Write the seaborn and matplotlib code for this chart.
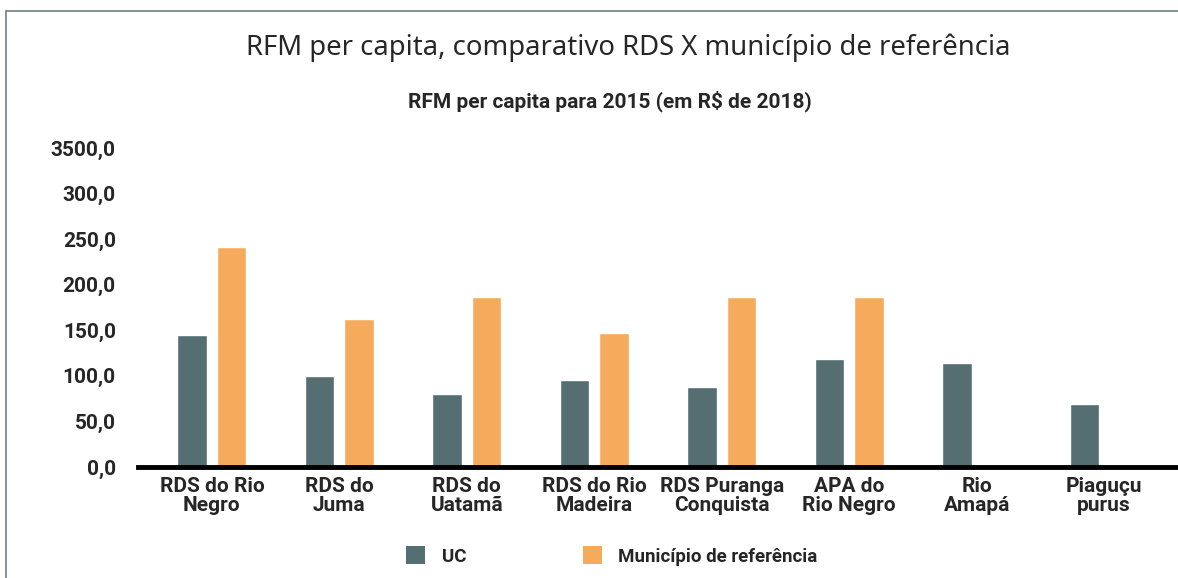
import numpy as np
import pandas as pd
import matplotlib
matplotlib.use('Agg')
import matplotlib.pyplot as plt
import seaborn as sns
from matplotlib.patches import Rectangle, Patch

# values
categories = ['RDS do Rio Negro', 'RDS do Juma', 'RDS do Uatamã', 'RDS do Rio Madeira',
              'RDS Puranga Conquista', 'APA do Rio Negro', 'Rio Amapá', 'Piaguçu purus']
tick_labels = ['RDS do Rio\nNegro', 'RDS do\nJuma', 'RDS do\nUatamã', 'RDS do Rio\nMadeira',
               'RDS Puranga\nConquista', 'APA do\nRio Negro', 'Rio\nAmapá', 'Piaguçu\npurus']
uc = [145, 100, 80, 95, 88, 118, 114, 69]
municipio = [241, 162, 186, 147, 186, 186, np.nan, np.nan]
y_ticks = [0, 50, 100, 150, 200, 250, 300, 350]
y_tick_labels = ['0,0', '50,0', '100,0', '150,0', '200,0', '250,0', '300,0', '3500,0']
series = ['UC', 'Município de referência']
colors = ['#546e71', '#f6ab5c']

df = pd.DataFrame({'categoria': categories * 2,
                   'serie': [series[0]] * len(categories) + [series[1]] * len(categories),
                   'valor': uc + municipio}).dropna()

sns.set_style('white')
plt.rcParams['font.family'] = ['Roboto', 'DejaVu Sans']

W, H = 1178, 578
fig = plt.figure(figsize=(W / 100, H / 100), dpi=100)
ax = fig.add_axes([138 / W, (H - 467) / H, (W - 138) / W, (467 - 148) / H])

sns.barplot(data=df, x='categoria', y='valor', hue='serie', order=categories,
            hue_order=series, palette=colors, width=0.62, gap=0.25,
            saturation=1, legend=False, ax=ax)

ax.set_ylim(0, 350)
ax.set_xlim(-0.58, len(categories) - 0.42)
ax.set_yticks(y_ticks)
ax.set_yticklabels(y_tick_labels, fontsize=15, fontweight='bold')
ax.set_xticks(range(len(categories)))
ax.set_xticklabels(tick_labels, fontsize=15, fontweight='bold', linespacing=1.05)
ax.tick_params(axis='y', length=0, pad=16)
ax.tick_params(axis='x', length=0, pad=7)
ax.set_xlabel('')
ax.set_ylabel('')
for s in ['left', 'right', 'top']:
    ax.spines[s].set_visible(False)
ax.spines['bottom'].set_color('black')
ax.spines['bottom'].set_linewidth(3.5)

# outer frame
fig.patches.append(Rectangle((6 / W, -0.1), 1.2, (H - 11) / H + 0.1, transform=fig.transFigure,
                             fill=False, edgecolor='#6b7f86', linewidth=1.2))

fig.text(628 / W, 1 - 48 / H, 'RFM per capita, comparativo RDS X município de referência',
         ha='center', va='center', fontsize=19.8, family=['Noto Sans', 'DejaVu Sans'])
fig.text(610 / W, 1 - 101 / H, 'RFM per capita para 2015 (em R$ de 2018)',
         ha='center', va='center', fontsize=15, fontweight='bold')

handles = [Patch(facecolor=c, edgecolor='none') for c in colors]
fig.legend(handles, series, loc='center', bbox_to_anchor=(612 / W, 1 - 556 / H), ncol=2,
           frameon=False, prop={'weight': 'bold', 'size': 13.5}, handlelength=1.0,
           handleheight=1.1, columnspacing=6.2, handletextpad=0.9)

fig.savefig('out.png', dpi=100)
